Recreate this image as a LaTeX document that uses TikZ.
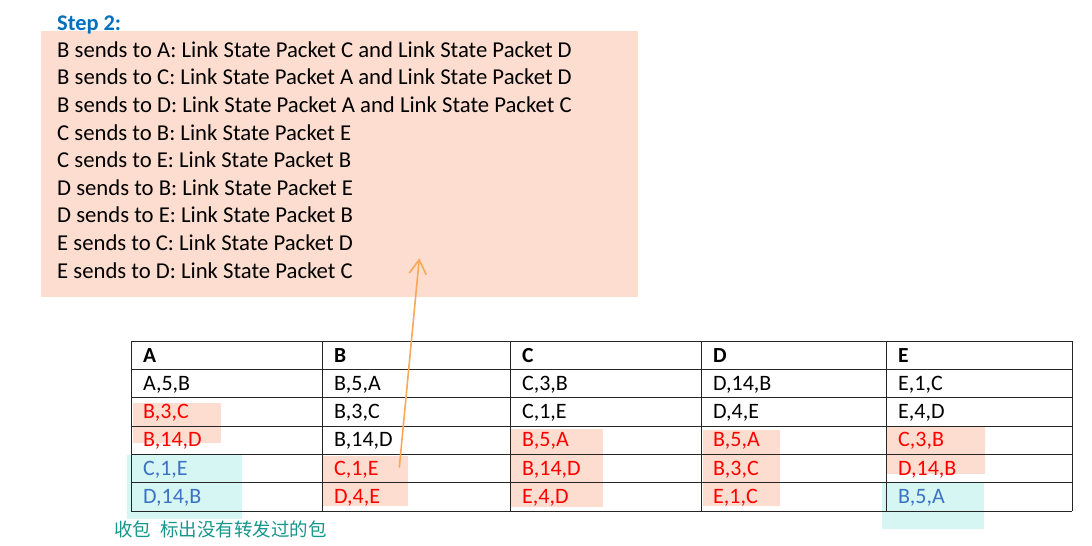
\documentclass[tikz,border=0pt]{standalone}
\usepackage{fontspec}
\setmainfont{Carlito}
\newfontfamily\cjk{Noto Sans CJK SC}
\usetikzlibrary{arrows.meta}

\definecolor{peach}{RGB}{253,221,207}
\definecolor{aqua}{RGB}{213,246,242}
\definecolor{stepblue}{RGB}{0,112,192}
\definecolor{cellblue}{RGB}{60,114,196}
\definecolor{capteal}{RGB}{22,150,140}
\definecolor{arroworange}{RGB}{247,168,88}

\tikzset{
  txt/.style={anchor=base west, inner sep=0pt, font=\fontsize{22.7}{26}\selectfont},
  cell/.style={anchor=base west, inner sep=0pt, font=\fontsize{22}{26}\selectfont},
  head/.style={anchor=base west, inner sep=0pt, font=\fontsize{21.5}{26}\selectfont\bfseries},
  grid line/.style={draw=black!85, line width=1pt}
}

\begin{document}
\begin{tikzpicture}[x=1pt,y=-1pt]
\useasboundingbox (0,0) rectangle (1092,546);

% step 2 box
\fill[peach] (41,31) rectangle (638,297);
\node[head, font=\fontsize{22.4}{26}\selectfont\bfseries, text=stepblue] (step) at (57,30.7) {Step 2:};
\foreach \i/\t in {1/B sends to A: Link State Packet C and Link State Packet D,
                   2/B sends to C: Link State Packet A and Link State Packet D,
                   3/B sends to D: Link State Packet A and Link State Packet C,
                   4/C sends to B: Link State Packet E,
                   5/C sends to E: Link State Packet B,
                   6/D sends to B: Link State Packet E,
                   7/D sends to E: Link State Packet B,
                   8/E sends to C: Link State Packet D,
                   9/E sends to D: Link State Packet C}
  \node[txt] (line\i) at (57,57.3+27.6*\i-27.6) {\t};

% highlights
\fill[peach] (133,403) rectangle (221,443);
\fill[aqua] (127,455) rectangle (242,519);
\fill[peach] (323,456) rectangle (408,506);
\fill[peach] (511,429) rectangle (603,507);
\fill[peach] (703,430) rectangle (780,506);
\fill[peach] (886,427) rectangle (985,474);
\fill[aqua] (882,483) rectangle (984,529);

% table grid
\foreach \y in {341,369.3,397.7,426,454.3,482.7,511}
  \draw[grid line] (131,\y) -- (1072,\y);
\foreach \x in {131,322,510,701,886,1072}
  \draw[grid line] (\x,341) -- (\x,511);

% header row
\foreach \c/\x in {A/143,B/334,C/522,D/713,E/898}
  \node[head] (h\c) at (\x,362) {\c};

% cells: column / row / text / colour
\foreach \c/\x/\r/\t/\col in {
    A/143/1/{A,5,B}/black, A/143/2/{B,3,C}/red, A/143/3/{B,14,D}/red,
    A/143/4/{C,1,E}/cellblue, A/143/5/{D,14,B}/cellblue,
    B/334/1/{B,5,A}/black, B/334/2/{B,3,C}/black, B/334/3/{B,14,D}/black,
    B/334/4/{C,1,E}/red, B/334/5/{D,4,E}/red,
    C/522/1/{C,3,B}/black, C/522/2/{C,1,E}/black, C/522/3/{B,5,A}/red,
    C/522/4/{B,14,D}/red, C/522/5/{E,4,D}/red,
    D/713/1/{D,14,B}/black, D/713/2/{D,4,E}/black, D/713/3/{B,5,A}/red,
    D/713/4/{B,3,C}/red, D/713/5/{E,1,C}/red,
    E/898/1/{E,1,C}/black, E/898/2/{E,4,D}/black, E/898/3/{C,3,B}/red,
    E/898/4/{D,14,B}/red, E/898/5/{B,5,A}/cellblue}
  \node[cell, text=\col] (cell\c\r) at (\x,390.3+28.33*\r-28.33) {\t};

% caption
\node[anchor=base west, inner sep=0pt, text=capteal, font=\cjk\fontsize{18.5}{21}\selectfont] (note) at (114,536) {收包\hspace{9pt}标出没有转发过的包};

% arrow from table to box
\coordinate (tail) at (399.3,467.7);
\coordinate (tip) at (419.3,258.3);
\draw[-{Straight Barb[length=14pt,width=17pt]}, arroworange, line width=1.6pt] (tail) -- (tip);
\end{tikzpicture}
\end{document}
